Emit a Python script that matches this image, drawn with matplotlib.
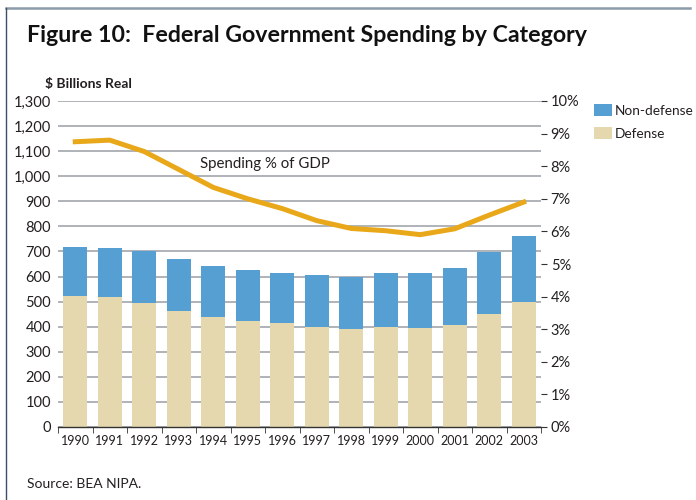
import matplotlib.pyplot as plt
from matplotlib.lines import Line2D
from matplotlib.ticker import FuncFormatter

plt.rcParams['font.family'] = ['Lato', 'DejaVu Sans']

years = ['1990', '1991', '1992', '1993', '1994', '1995', '1996',
         '1997', '1998', '1999', '2000', '2001', '2002', '2003']
defense = [524, 517, 493, 461, 437, 421, 413, 397, 389, 397, 393, 405, 449, 497]
total = [716, 712, 700, 668, 644, 628, 616, 608, 600, 616, 616, 636, 696, 760]
nondefense = [t - d for t, d in zip(total, defense)]
gdp_pct = [8.75, 8.8, 8.45, 7.9, 7.35, 7.0, 6.7, 6.33, 6.09, 6.02, 5.9, 6.08, 6.5, 6.9]

blue = '#559fd3'
beige = '#e6d8ae'
gold = '#e8a81a'
text_col = '#231f20'


def main():
    fig = plt.figure(figsize=(6.96, 5), dpi=100)
    ax = fig.add_axes([58 / 696, 73 / 500, 483 / 696, 326 / 500])
    x = list(range(len(years)))

    ax.bar(x, defense, width=0.7, color=beige, label='Defense', zorder=2)
    ax.bar(x, nondefense, width=0.7, bottom=defense, color=blue,
           label='Non-defense', zorder=2)

    ax.set_xlim(-0.5, len(years) - 0.5)
    ax.set_ylim(0, 1300)
    ax.set_yticks(range(0, 1301, 100))
    ax.yaxis.set_major_formatter(FuncFormatter(lambda v, p: f'{int(v):,}'))
    ax.grid(axis='y', color='#a9adb1', linewidth=1.3, zorder=0)
    ax.set_axisbelow(True)
    for side in ['left', 'right', 'top']:
        ax.spines[side].set_visible(False)
    ax.spines['bottom'].set_color('#333333')
    ax.spines['bottom'].set_linewidth(1.0)
    ax.spines['bottom'].set_zorder(3)

    ax.set_xticks(x)
    ax.set_xticklabels(years)
    ax.set_xticks([i - 0.5 for i in range(len(years) + 1)], minor=True)
    ax.tick_params(axis='x', which='major', length=0, pad=6,
                   labelsize=9, labelcolor=text_col)
    ax.tick_params(axis='x', which='minor', length=4, direction='out',
                   color='#333333')
    ax.tick_params(axis='y', length=0, pad=5, labelsize=10.5,
                   labelcolor=text_col)

    # share of GDP on the right-hand scale
    ax2 = ax.twinx()
    ax2.plot(x, gdp_pct, color=gold, linewidth=3.6, solid_joinstyle='round',
             zorder=4)
    ax2.set_ylim(0, 10)
    ax2.set_yticks(range(0, 11))
    ax2.yaxis.set_major_formatter(FuncFormatter(lambda v, p: f'{int(v)}%'))
    ax2.tick_params(axis='y', length=4, direction='out', pad=3,
                    labelsize=10.5, labelcolor=text_col, color='#333333')
    for side in ['left', 'right', 'top', 'bottom']:
        ax2.spines[side].set_visible(False)
    ax2.text(5.5, 8.08, 'Spending % of GDP', ha='center', va='center',
             fontsize=10.8, color=text_col)

    handles, labels = ax.get_legend_handles_labels()
    fig.legend(handles[::-1], labels[::-1], loc='upper left',
               bbox_to_anchor=(583 / 696, 1 - 93 / 500), frameon=False,
               fontsize=9.8, handlelength=1.3, handleheight=1.0,
               handletextpad=0.2, labelspacing=0.75, labelcolor=text_col,
               borderpad=0.3)

    fig.text(27 / 696, 1 - 42 / 500,
             'Figure 10:  Federal Government Spending by Category',
             fontsize=16.7, fontweight='bold', color='#111111', va='baseline')
    fig.text(45 / 696, 1 - 88 / 500, '$ Billions Real', fontsize=10,
             fontweight='bold', color=text_col, va='baseline')
    fig.text(27 / 696, 1 - 488 / 500, 'Source: BEA NIPA.', fontsize=10,
             color=text_col, va='baseline')

    # page frame
    fig.add_artist(Line2D([6 / 696, 690 / 696], [1 - 8 / 500, 1 - 8 / 500],
                          transform=fig.transFigure, color='#8c9ba8',
                          linewidth=1.8))
    fig.add_artist(Line2D([6 / 696, 6 / 696], [0, 1 - 8 / 500],
                          transform=fig.transFigure, color='#3a5068',
                          linewidth=1.0))

    fig.savefig('out.png', dpi=100)


if __name__ == "__main__":
    main()
